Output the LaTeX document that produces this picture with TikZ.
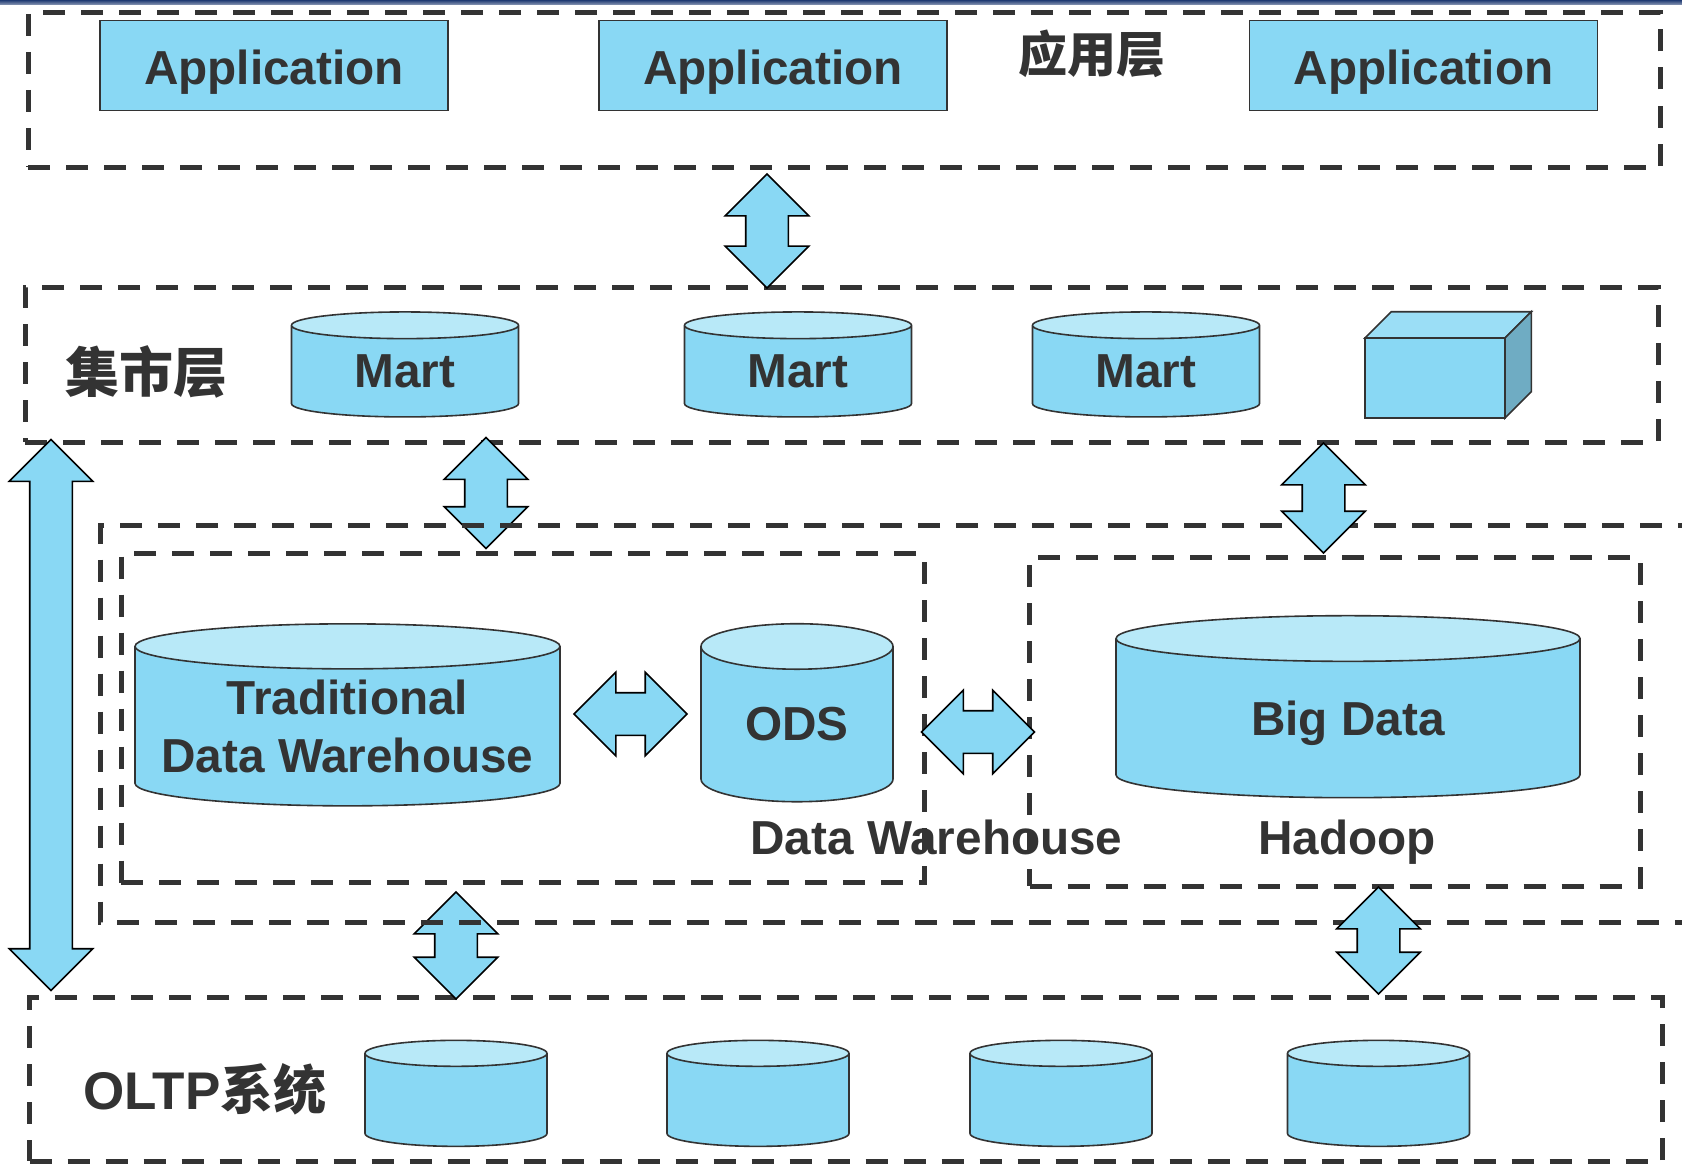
\documentclass[tikz,border=0pt]{standalone}
\usepackage{fontspec}
\setmainfont{Liberation Sans}
\newfontfamily\cjk{Noto Sans CJK SC}
\usetikzlibrary{shapes.geometric,shapes.arrows}
\definecolor{skyfill}{HTML}{89D8F4}
\definecolor{skytop}{HTML}{B8E9F8}
\definecolor{cubetop}{HTML}{9BDEF6}
\definecolor{cubeside}{HTML}{6FACC3}
\definecolor{inkgray}{HTML}{333333}
\definecolor{stripblue}{HTML}{1F3A72}
\begin{document}
\begin{tikzpicture}[x=1pt,y=-1pt,
        every node/.style={inner sep=0,outer sep=0,text=inkgray,font=\bfseries\fontsize{47.7}{58}\selectfont,align=center},
        layer/.style={draw=inkgray,line width=5pt,dash pattern=on 22pt off 16pt},
        appbox/.style={rectangle,draw=inkgray,line width=1.6pt,fill=skyfill,minimum width=348pt,minimum height=90pt,text height=37.5pt,text depth=0pt},
        store/.style={cylinder,shape border rotate=90,draw=inkgray,line width=1.6pt,cylinder uses custom fill,
            cylinder body fill=skyfill,cylinder end fill=skytop},
        blockarrow/.style={double arrow,draw=black,line width=1.6pt,fill=skyfill,inner ysep=20.5pt,
            double arrow head extend=20.5pt},
        updown/.style={blockarrow,rotate=90},
        sideways/.style={blockarrow,minimum height=113pt},
        title/.style={font=\cjk\bfseries\fontsize{49}{58}\selectfont}]
    \useasboundingbox (0, 0) rectangle (1682, 1164);
    \clip (0, 0) rectangle (1682, 1164);

    \shade[top color=stripblue,bottom color=stripblue!55!white] (0, 0) rectangle (1682, 4.5);

    % layers
    \draw[layer] (28, 167) -- (1660.5, 167) -- (1660.5, 13) -- (28, 13) -- cycle;
    \draw[layer] (25, 442) -- (1658, 442) -- (1658, 287) -- (25, 287) -- cycle;
    \draw[layer] (29.5, 1161) -- (1662.5, 1161) -- (1662.5, 997.5) -- (29.5, 997.5) -- cycle;

    \node[updown,minimum height=111pt] at (486, 493) (marttotrad) {};
    \node[updown,minimum height=107pt] at (456, 945.5) (oltptotrad) {};

    \draw[layer] (1700, 525.5) -- (100, 525.5) -- (100, 922.5) -- (1700, 922.5);
    \draw[layer] (121, 882.5) -- (924, 882.5) -- (924, 553.5) -- (121, 553.5) -- cycle;
    \draw[layer] (1029.5, 886) -- (1640, 886) -- (1640, 557) -- (1029.5, 557) -- cycle;

    % application layer
    \node[appbox] at (274, 65.5) (app1) {Application};
    \node[appbox] at (773, 65.5) (app2) {Application};
    \node[appbox] at (1423.5, 65.5) (app3) {Application};
    \node[title] at (1092, 54) (applabel) {应用层};

    % mart layer
    \node[title,font=\cjk\bfseries\fontsize{54}{60}\selectfont] at (146, 372) (martlabel) {集市层};
    \node[store,minimum width=227pt,minimum height=105pt,aspect=0.265] at (405, 371.5) (mart1) {Mart};
    \node[store,minimum width=227pt,minimum height=105pt,aspect=0.265] at (798, 371.5) (mart2) {Mart};
    \node[store,minimum width=227pt,minimum height=105pt,aspect=0.265] at (1146, 371.5) (mart3) {Mart};
    \node[rectangle,draw=inkgray,line width=1.6pt,fill=skyfill,minimum width=140pt,minimum height=80pt] at (1435, 378) (cube) {};
    \draw[draw=inkgray,line width=1.6pt,fill=cubetop] (cube.north west) -- ++(26.4, -26.3) -- ++(140, 0) -- (cube.north east) -- cycle;
    \draw[draw=inkgray,line width=1.6pt,fill=cubeside] (cube.north east) -- ++(26.4, -26.3) -- ++(0, 80) -- (cube.south east) -- cycle;

    % data warehouse
    \node[store,minimum width=425pt,minimum height=182pt,aspect=0.121] at (347.5, 726.5) (trad) {Traditional\\Data Warehouse};
    \node[store,minimum width=192pt,minimum height=178pt,aspect=0.44] at (797, 724.5) (ods) {ODS};
    \node[store,minimum width=464pt,minimum height=182pt,aspect=0.236,text depth=0pt] at (1348, 718.5) (bigdata) {Big Data};
    \node at (936.5, 837) (dwlabel) {Data Warehouse};
    \node at (1347, 842) (hadoop) {Hadoop};

    % oltp layer
    \node at (205, 1089) (oltplabel) {\fontsize{53}{60}\selectfont OLTP{\cjk 系统}};
    \node[store,minimum width=182pt,minimum height=106pt,aspect=0.265,inner xsep=49pt] at (456, 1106) (src1) {};
    \node[store,minimum width=182pt,minimum height=106pt,aspect=0.265,inner xsep=49pt] at (758, 1106) (src2) {};
    \node[store,minimum width=182pt,minimum height=106pt,aspect=0.265,inner xsep=49pt] at (1061, 1106) (src3) {};
    \node[store,minimum width=182pt,minimum height=106pt,aspect=0.265,inner xsep=49pt] at (1378.5, 1106) (src4) {};

    % block arrows
    \node[updown,minimum height=114pt] at (767, 231) (apptomart) {};
    \node[updown,minimum height=551pt] at (51, 715) (oltptomart) {};
    \node[updown,minimum height=110pt] at (1323.5, 498) (marttohadoop) {};
    \node[updown,minimum height=107pt] at (1378.5, 940.5) (oltptohadoop) {};
    \node[sideways] at (630.5, 714) (tradtoods) {};
    \node[sideways] at (978, 732) (odstohadoop) {};
\end{tikzpicture}
\end{document}
